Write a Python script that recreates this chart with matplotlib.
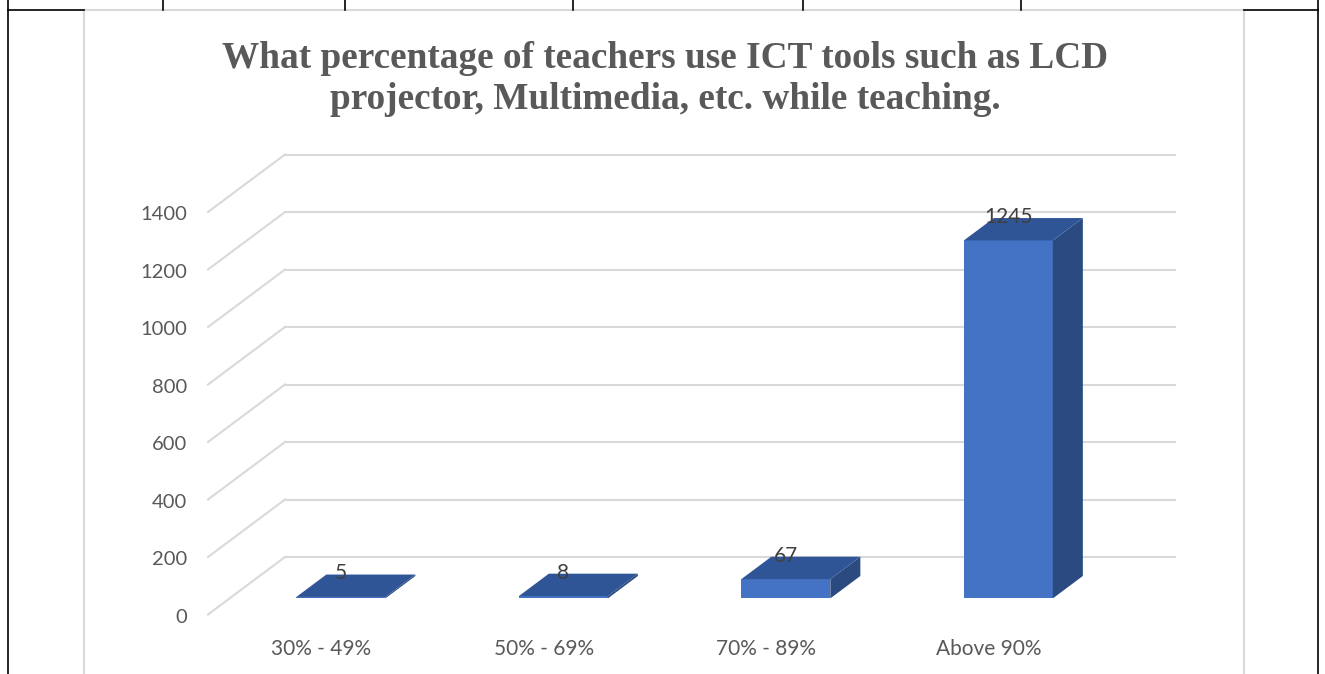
import matplotlib
matplotlib.use("Agg")
import matplotlib.pyplot as plt
from matplotlib.patches import Polygon
from matplotlib.lines import Line2D

# Data
categories = ["30% - 49%", "50% - 69%", "70% - 89%", "Above 90%"]
values = [5, 8, 67, 1245]
yticks = [0, 200, 400, 600, 800, 1000, 1200, 1400]
title = "What percentage of teachers use ICT tools such as LCD\nprojector, Multimedia, etc. while teaching."

# Colours
front_col = "#4472C4"
top_col = "#2F5597"
side_col = "#2A4A80"
grid_col = "#D9D9D9"
text_col = "#595959"

# oblique projection: full depth shifts a point by (-DX, -DY) in data units
DX = 0.346      # category slots
DY = 200.0      # value units
f_front, f_back = 0.72, 0.33   # bar depth position (0 = back wall, 1 = front)
bar_w = 0.40

W, H = 1325, 674
fig = plt.figure(figsize=(W / 100, H / 100), dpi=100)
ax = fig.add_axes([0, 0, 1, 1])
# map data space so back wall spans x 0..4 and value 0..1400
px_per_slot = 222.5
px_per_val = 0.2875
x0_px, y0_px = 285, 557
ax.set_xlim(-x0_px / px_per_slot, (W - x0_px) / px_per_slot)
ax.set_ylim((y0_px - H) / px_per_val, y0_px / px_per_val)
ax.axis("off")


def proj(x, v, f):
    return (x - DX * f, v - DY * f)


# gridlines (back wall + left wall diagonals)
n = len(categories)
for v in yticks:
    ax.add_line(Line2D([0, n], [v, v], color=grid_col, lw=1.5, zorder=1))
    xs, ys = zip(proj(0, v, 0), proj(0, v, 1))
    ax.add_line(Line2D(xs, ys, color=grid_col, lw=1.5, zorder=1))
    fx, fy = proj(0, v, 1)
    ax.text(fx - 0.095, fy - 10, str(v), ha="right", va="center",
            fontsize=14.5, color=text_col, family="Lato")

# bars
for i, (cat, v) in enumerate(zip(categories, values)):
    xl = i + 0.5 - bar_w / 2
    xr = i + 0.5 + bar_w / 2
    fl0 = proj(xl, 0, f_front)
    fr0 = proj(xr, 0, f_front)
    fl1 = proj(xl, v, f_front)
    fr1 = proj(xr, v, f_front)
    bl1 = proj(xl, v, f_back)
    br1 = proj(xr, v, f_back)
    br0 = proj(xr, 0, f_back)
    ax.add_patch(Polygon([fl0, fr0, fr1, fl1], closed=True, fc=front_col,
                         ec="none", zorder=3))
    ax.add_patch(Polygon([fr0, br0, br1, fr1], closed=True, fc=side_col,
                         ec="none", zorder=3))
    ax.add_patch(Polygon([fl1, fr1, br1, bl1], closed=True, fc=top_col,
                         ec="none", zorder=4))
    # data label
    ax.text(i + 0.5 - DX * f_front, v - DY * f_front + 82, str(v),
            ha="center", va="center", fontsize=15, color="#404040",
            family="Lato", zorder=5)
    # category label
    cx, cy = proj(i + 0.5, 0, 1)
    ax.text(cx + 0.01, -321, cat, ha="center", va="center", fontsize=15,
            color=text_col, family="Lato")

# title
fig.text((222 + 1108) / 2 / W, 1 - 79 / H, title, ha="center", va="center",
         fontsize=26.8, fontweight="bold", color=text_col,
         family="Liberation Serif", linespacing=1.23)

# chart frame and surrounding table borders
def fline(x1, y1, x2, y2, **kw):
    fig.add_artist(Line2D([x1 / W, x2 / W], [1 - y1 / H, 1 - y2 / H],
                          transform=fig.transFigure, **kw))

fline(84, 10, 1244, 10, color=grid_col, lw=1.5)
fline(84, 10, 84, H, color=grid_col, lw=1.5)
fline(1244, 10, 1244, H, color=grid_col, lw=1.5)
fline(8, 10, 84, 10, color="black", lw=1.2)
fline(1244, 10, 1318, 10, color="black", lw=1.2)
fline(8, 0, 8, H, color="black", lw=1.2)
fline(1318, 0, 1318, H, color="black", lw=1.2)
for xv in [163, 345, 573, 803, 1021]:
    fline(xv, 0, xv, 10, color="black", lw=1.2)

fig.savefig("out.png", dpi=100)
